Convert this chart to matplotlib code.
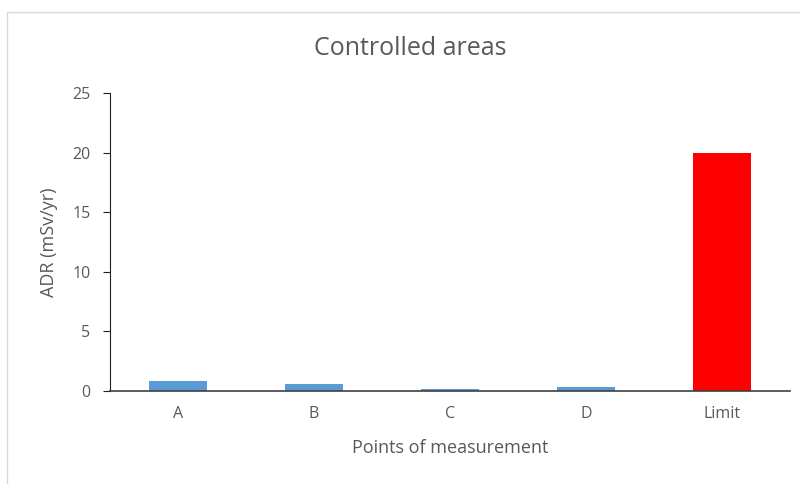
import matplotlib.pyplot as plt
from matplotlib.patches import Rectangle

points = ['A', 'B', 'C', 'D', 'Limit']
adr = [0.86, 0.59, 0.17, 0.34, 20]
colors = ['#5B9BD5', '#5B9BD5', '#5B9BD5', '#5B9BD5', '#FF0000']

plt.rcParams['font.family'] = ['Open Sans', 'DejaVu Sans']
text_color = '#595959'

fig = plt.figure(figsize=(8, 4.84), dpi=100)
ax = fig.add_axes([0.1375, 0.192, 0.85, 0.616])

# light chart frame
fig.patches.append(Rectangle((7 / 800, -0.1), 1.2, 1 - 12 / 484 + 0.1,
                             transform=fig.transFigure, fill=False,
                             edgecolor='#D9D9D9', linewidth=1))

ax.bar(points, adr, width=0.42, color=colors)
ax.set_xlim(-0.5, 4.5)
ax.set_ylim(0, 25)
ax.set_yticks([0, 5, 10, 15, 20, 25])

for side in ['top', 'right']:
    ax.spines[side].set_visible(False)
ax.spines['left'].set_color('#222222')
ax.spines['bottom'].set_color('#404040')
ax.spines['bottom'].set_linewidth(1.2)
ax.tick_params(axis='x', length=0, colors=text_color, labelsize=11.5, pad=11)
ax.tick_params(axis='y', length=5, direction='out', colors=text_color,
               labelsize=11.5, pad=9)
ax.tick_params(axis='y', color='#222222')

ax.set_xlabel('Points of measurement', color=text_color, fontsize=13, labelpad=12)
ax.set_ylabel('ADR (mSv/yr)', color=text_color, fontsize=13, labelpad=10)
fig.text(0.513, 0.900, 'Controlled areas', ha='center', va='center',
         color=text_color, fontsize=18)

fig.savefig('out.png', dpi=100)
